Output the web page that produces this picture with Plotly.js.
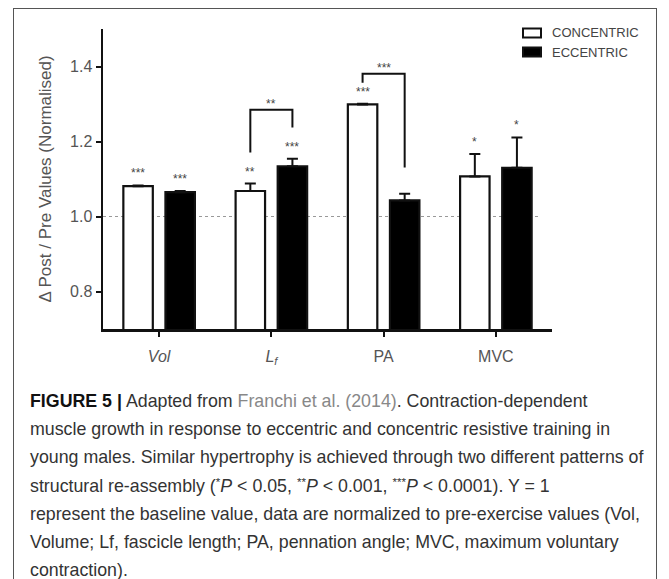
<!DOCTYPE html>
<html><head><meta charset="utf-8">
<script src="https://cdn.plot.ly/plotly-3.0.1.min.js"></script>
<style>
html,body{margin:0;padding:0;background:#fff;width:669px;height:579px;overflow:hidden;}
#frame{position:absolute;left:13px;top:8px;width:644px;height:620px;border:1px solid #555;box-sizing:border-box;}
#chart{position:absolute;left:0;top:0;width:669px;height:380px;}
#caption{position:absolute;left:30px;top:387px;width:625px;font-family:"Liberation Sans",Arial,sans-serif;font-size:17.8px;line-height:28.2px;color:#333;white-space:nowrap;}
#caption b{color:#111;}
#caption sup{font-size:0.65em;line-height:0;vertical-align:0.55em;}
#caption .ref{color:#888;}
</style></head><body>
<div id="frame"></div>
<div id="chart"></div>
<div id="caption"><b>FIGURE 5 |</b> Adapted from <span class="ref">Franchi et al. (2014)</span>. Contraction-dependent<br>muscle growth in response to eccentric and concentric resistive training in<br>young males. Similar hypertrophy is achieved through two different patterns of<br>structural re-assembly (<sup>*</sup><i>P</i> &lt; 0.05, <sup>**</sup><i>P</i> &lt; 0.001, <sup>***</sup><i>P</i> &lt; 0.0001). Y = 1<br>represent the baseline value, data are normalized to pre-exercise values (Vol,<br>Volume; Lf, fascicle length; PA, pennation angle; MVC, maximum voluntary<br>contraction).</div>
<script>
// ---- data ----
const categories = ['Vol', 'Lf', 'PA', 'MVC'];
const tickLabels = ['<i>Vol</i>', '<i>L<sub>f</sub></i>', 'PA', 'MVC'];
const seriesNames = ['CONCENTRIC', 'ECCENTRIC'];
const concentric = [1.081, 1.068, 1.299, 1.107];
const concentricErr = [0.002, 0.020, 0.002, 0.060];
const eccentric = [1.065, 1.134, 1.043, 1.130];
const eccentricErr = [0.003, 0.020, 0.018, 0.081];
const concentricStars = ['***', '**', '***', '*'];
const eccentricStars = ['***', '***', '', '*'];
const comparisonCats = ['Lf', 'PA'];
const comparisonLabels = ['**', '***'];
const comparisonTop = [1.285, 1.381];
const comparisonLeftEnd = [1.171, 1.357];
const comparisonRightEnd = [1.237, 1.131];
const baseline = 1.0;
const yTickVals = [0.8, 1.0, 1.2, 1.4];
const yTickText = ['0.8', '1.0', '1.2', '1.4'];

// ---- layout helpers ----
const W = 669, H = 380, L = 103, R = 117, T = 29, B = 51;
const PW = W - L - R, PH = H - T - B;
const px2x = p => (p - L) / PW;
const py2y = p => (H - B - p) / PH;
const OFF = 0.1875;
const gray = '#555';
const FONT = '"Liberation Sans", Arial, sans-serif';

const traces = [
  {type: 'bar', name: seriesNames[0], x: categories, y: concentric,
   marker: {color: '#fff', line: {color: '#111', width: 2.2}},
   error_y: {type: 'data', symmetric: false, array: concentricErr, arrayminus: concentricErr.map(() => 0),
             color: '#111', thickness: 2, width: 5.5},
   hoverinfo: 'x+y'},
  {type: 'bar', name: seriesNames[1], x: categories, y: eccentric,
   marker: {color: '#000', line: {color: '#111', width: 2.2}},
   error_y: {type: 'data', symmetric: false, array: eccentricErr, arrayminus: eccentricErr.map(() => 0),
             color: '#111', thickness: 2, width: 5.5},
   hoverinfo: 'x+y'}
];

const shapes = [];
const annotations = [];

// baseline dotted line
shapes.push({type: 'line', xref: 'x', yref: 'y', x0: -0.5, x1: 3.376, y0: baseline, y1: baseline,
             line: {color: '#999', width: 1, dash: 'dot'}, layer: 'below'});

// significance stars
function addStars(vals, errs, stars, dx) {
  vals.forEach((v, i) => {
    if (!stars[i]) return;
    annotations.push({x: i + dx, y: v + errs[i], xref: 'x', yref: 'y', text: stars[i], showarrow: false,
      yanchor: 'bottom', yshift: 3, font: {family: FONT, size: 12, color: '#444'}});
  });
}
addStars(concentric, concentricErr, concentricStars, -OFF);
addStars(eccentric, eccentricErr, eccentricStars, OFF);

// comparison brackets
comparisonCats.forEach((c, k) => {
  const i = categories.indexOf(c);
  const xl = i - OFF, xr = i + OFF;
  shapes.push({type: 'path', xref: 'x', yref: 'y',
    path: `M${xl},${comparisonLeftEnd[k]} L${xl},${comparisonTop[k]} L${xr},${comparisonTop[k]} L${xr},${comparisonRightEnd[k]}`,
    line: {color: '#111', width: 2}});
  annotations.push({x: i, y: comparisonTop[k], xref: 'x', yref: 'y', text: comparisonLabels[k], showarrow: false,
    yanchor: 'bottom', yshift: -3, font: {family: FONT, size: 12, color: '#444'}});
});

// custom legend
const legY = [33, 52];
seriesNames.forEach((n, k) => {
  shapes.push({type: 'rect', xref: 'paper', yref: 'paper',
    x0: px2x(523), x1: px2x(541), y0: py2y(legY[k] + 4.5), y1: py2y(legY[k] - 4.5),
    fillcolor: k === 0 ? '#fff' : '#000', line: {color: '#111', width: 2}});
  annotations.push({x: px2x(550), y: py2y(legY[k]), xref: 'paper', yref: 'paper', text: n,
    showarrow: false, xanchor: 'left', yanchor: 'middle', font: {family: FONT, size: 13, color: '#444'}});
});

const layout = {
  width: W, height: H,
  margin: {l: L, r: R, t: T, b: B, pad: 0},
  paper_bgcolor: 'rgba(0,0,0,0)', plot_bgcolor: 'rgba(0,0,0,0)',
  barmode: 'group', bargap: 0.25, bargroupgap: 0.3,
  showlegend: false,
  font: {family: FONT, color: gray},
  xaxis: {type: 'category', range: [-0.5, 3.5], tickvals: categories, ticktext: tickLabels,
    showline: true, linewidth: 2.5, linecolor: '#111', ticks: 'outside', ticklen: 5, tickwidth: 2,
    tickcolor: '#111', showgrid: false, zeroline: false, fixedrange: true,
    tickfont: {family: FONT, size: 16, color: gray}, ticklabelstandoff: 6},
  yaxis: {range: [0.7, 1.5], tickvals: yTickVals, ticktext: yTickText,
    showline: true, linewidth: 2.5, linecolor: '#111', ticks: 'outside', ticklen: 5, tickwidth: 2,
    tickcolor: '#111', showgrid: false, zeroline: false, fixedrange: true,
    tickfont: {family: FONT, size: 16, color: gray},
    title: {text: 'Δ Post / Pre Values (Normalised)', font: {family: FONT, size: 17, color: gray}, standoff: 14}},
  shapes: shapes,
  annotations: annotations
};

Plotly.newPlot('chart', traces, layout, {displayModeBar: false, staticPlot: true});
</script>
</body></html>
